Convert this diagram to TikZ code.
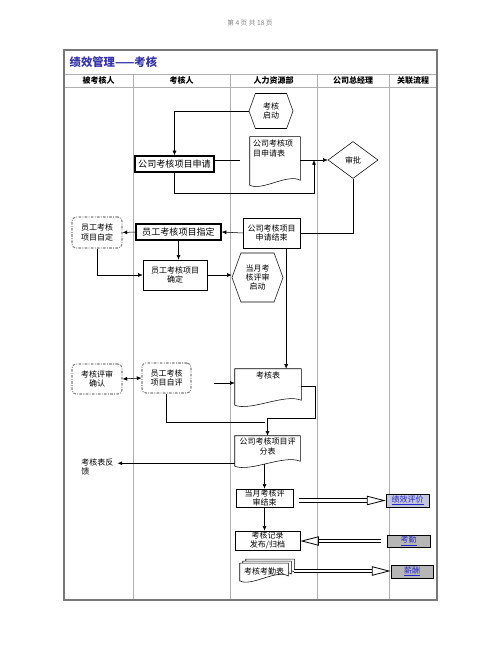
\documentclass[tikz,border=0pt]{standalone}
\usepackage{fontspec}
\setmainfont{Noto Sans CJK SC}
\usepackage{tikz}
\usetikzlibrary{arrows.meta, calc, shapes.geometric, shapes.symbols, backgrounds}
\definecolor{framegray}{RGB}{120,120,120}
\definecolor{linegray}{RGB}{175,175,175}
\definecolor{titleblue}{RGB}{51,51,170}
\definecolor{linkblue}{RGB}{40,40,200}
\definecolor{perffill}{RGB}{196,198,222}
\definecolor{refgray}{RGB}{182,182,182}
% document outline with wavy bottom, shifted by (#2,#3)
\newcommand{\docline}[3]{%
  \draw[fill=white] ($(#1.north west)+(#2,#3)$) -- ($(#1.north east)+(#2,#3)$) -- ($(#1.south east)+(#2,#3-3)$)
    .. controls ($(#1.south east)!0.5!(#1.south)+(#2,#3-10)$) and ($(#1.south west)!0.5!(#1.south)+(#2,#3+8)$)
    .. ($(#1.south west)+(#2,#3+2)$) -- cycle;}

\begin{document}
\begin{tikzpicture}[x=0.75pt,y=-0.75pt,
  font=\fontsize{6}{7}\selectfont,
  box/.style={draw,align=center,inner sep=0.5pt},
  boldbox/.style={draw,line width=1pt,align=center,inner sep=0.5pt,font=\fontsize{6.8}{8}\selectfont},
  dashbox/.style={draw=gray,thick,dash pattern=on 2pt off 1pt on 0.6pt off 1pt,rounded corners=3pt,align=center},
  doc/.style={inner sep=0pt},
  hexa/.style={draw,signal,signal to=west and east,signal pointer angle=140,align=center,inner sep=0pt},
  refbox/.style={draw,semithick,fill=refgray,text=linkblue,inner sep=0pt},
  flow/.style={-{Latex[length=3.5pt,width=3pt]}},
  wide/.style={double,line width=0.6pt,double distance=2pt,shorten <=4pt,-{Triangle[open,length=14pt,width=7pt]}}]
  \useasboundingbox (0,0) rectangle (500,652);
  \node[font=\fontsize{5}{6}\selectfont,text=gray] (pagenum) at (250,23) {第 4 页 共 18 页};
  % frame and lanes
  \draw[linegray] (64,74) -- (437,74);
  \draw[linegray] (64,87) -- (437,87);
  \foreach \x in {133,230,317,389} \draw[linegray] (\x,74) -- (\x,600);
  \draw[framegray,line width=1.2pt] (64,50) rectangle (437,600);
  \node[anchor=west,font=\fontsize{8.5}{10}\selectfont\bfseries,text=titleblue] (title) at (65,62) {绩效管理——考核};
  \foreach \name/\x [count=\i] in {被考核人/98.5, 考核人/181.5, 人力资源部/273.5, 公司总经理/353, 关联流程/413}
    \node[font=\fontsize{6}{7}\selectfont\bfseries] (head\i) at (\x,80.5) {\name};
  % steps
  \node[hexa,minimum width=33pt,minimum height=26.25pt] (start) at (271,111) {考核\\启动};
  \node[boldbox,minimum width=59.25pt,minimum height=12pt] (apply) at (174.5,164) {公司考核项目申请};
  \node[doc,minimum width=37.5pt,minimum height=34.5pt] (form) at (275,160) {\parbox[c][30pt][t]{33pt}{公司考核项\\目申请表}};
  \node[diamond,draw,minimum width=37.5pt,minimum height=27.75pt,inner sep=0pt] (approve) at (353,160) {审批};
  \node[box,minimum width=42.75pt,minimum height=22.5pt] (endapp) at (271.5,233) {公司考核项目\\申请结束};
  \node[boldbox,minimum width=63.75pt,minimum height=12pt] (assign) at (178.5,232) {员工考核项目指定};
  \node[dashbox,minimum width=37.5pt,minimum height=23.25pt] (selfset) at (97,232.5) {员工考核\\项目自定};
  \node[box,minimum width=48pt,minimum height=22.5pt] (fixed) at (175,275) {员工考核项目\\确定};
  \node[hexa,minimum width=38.25pt,minimum height=36.75pt] (monthstart) at (257.5,277.5) {当月考\\核评审\\启动};
  \node[doc,minimum width=49.5pt,minimum height=25.5pt] (sheet) at (268,386) {\parbox[c][22pt][t]{45pt}{\centering 考核表}};
  \node[dashbox,minimum width=37.5pt,minimum height=22.5pt] (review) at (97,379) {考核评审\\确认};
  \node[dashbox,minimum width=36.75pt,minimum height=22.5pt] (selfeval) at (166.5,378) {员工考核\\项目自评};
  \node[doc,minimum width=48.75pt,minimum height=21pt] (score) at (267.5,450) {\parbox[c][18pt][t]{47pt}{\centering 公司考核项目评\\分表}};
  \node[anchor=west,align=left,inner sep=3pt] (feedback) at (77,467) {考核表反\\馈};
  \node[box,minimum width=42.75pt,minimum height=13.5pt] (monthend) at (264.5,498) {当月考核评\\审结束};
  \node[box,minimum width=48.75pt,minimum height=14.25pt] (archive) at (267.5,540.5) {考核记录\\发布/归档};
  \node[doc,minimum width=36pt,minimum height=11.5pt] (att) at (264,571) {考核考勤表};
  \node[refbox,fill=perffill,minimum width=32.25pt,minimum height=9.75pt] (perf) at (407.5,500.5) {\underline{绩效评价}};
  \node[refbox,minimum width=32.25pt,minimum height=9pt] (kq) at (408.5,541) {\underline{考勤}};
  \node[refbox,minimum width=31.5pt,minimum height=9.75pt] (pay) at (412,571.5) {\underline{薪酬}};
  % document outlines
  \begin{scope}[on background layer]
    \docline{form}{0}{0}
    \docline{sheet}{0}{0}
    \docline{score}{0}{0}
    \docline{att}{6}{-4}
    \docline{att}{3}{-2}
    \docline{att}{0}{0}
  \end{scope}
  % application
  \coordinate (gap) at (240,160);
  \coordinate (loopcorner) at (314,193);
  \draw[flow] (start.west) -| (apply.north);
  \draw (apply.east |- gap) -- (gap);
  \draw[flow] (apply.south) |- (loopcorner) -- (loopcorner |- form.east);
  \draw[flow] (form.east) -- (approve.west);
  \draw (approve.south) |- (endapp.east);
  % assignment
  \draw[flow] (endapp.west) -- (assign.east);
  \draw[flow] (assign.west) -- (selfset.east);
  \draw[flow] (assign.south) -- (assign.south |- fixed.north);
  \draw[flow] (selfset.south) |- (fixed.west);
  \draw[flow] (fixed.east) -- (fixed.east -| monthstart.west);
  % evaluation
  \coordinate (inlet) at (214,383);
  \coordinate (mergeL) at (265,422);
  \coordinate (mergeR) at (267.5,418);
  \draw[flow] ([xshift=11pt]endapp.south) -- ([xshift=11pt]endapp.south |- sheet.north);
  \draw[{Latex[length=3.5pt,width=3pt]}-{Latex[length=3.5pt,width=3pt]}] (review.east) -- (selfeval.west);
  \draw[flow] (inlet) -- (inlet -| sheet.west);
  \draw (selfeval.south) |- (mergeL);
  \draw[flow] (sheet.east) -- ++(14,0) |- (mergeR) -- (mergeR |- score.north);
  \draw[flow] ($(score.south west)+(0,-1)$) coordinate (fbstart) -- (fbstart -| feedback.east);
  % results
  \draw[flow] (monthend.north |- score.south) -- (monthend.north);
  \draw[flow] (monthend.south) -- (monthend.south |- archive.north);
  \draw[wide] (monthend.east |- perf.west) -- (perf.west);
  \draw[wide] (kq.west) -- (kq.west -| archive.east);
  \draw[wide] (att.east) -- (att.east -| pay.west);
\end{tikzpicture}
\end{document}
